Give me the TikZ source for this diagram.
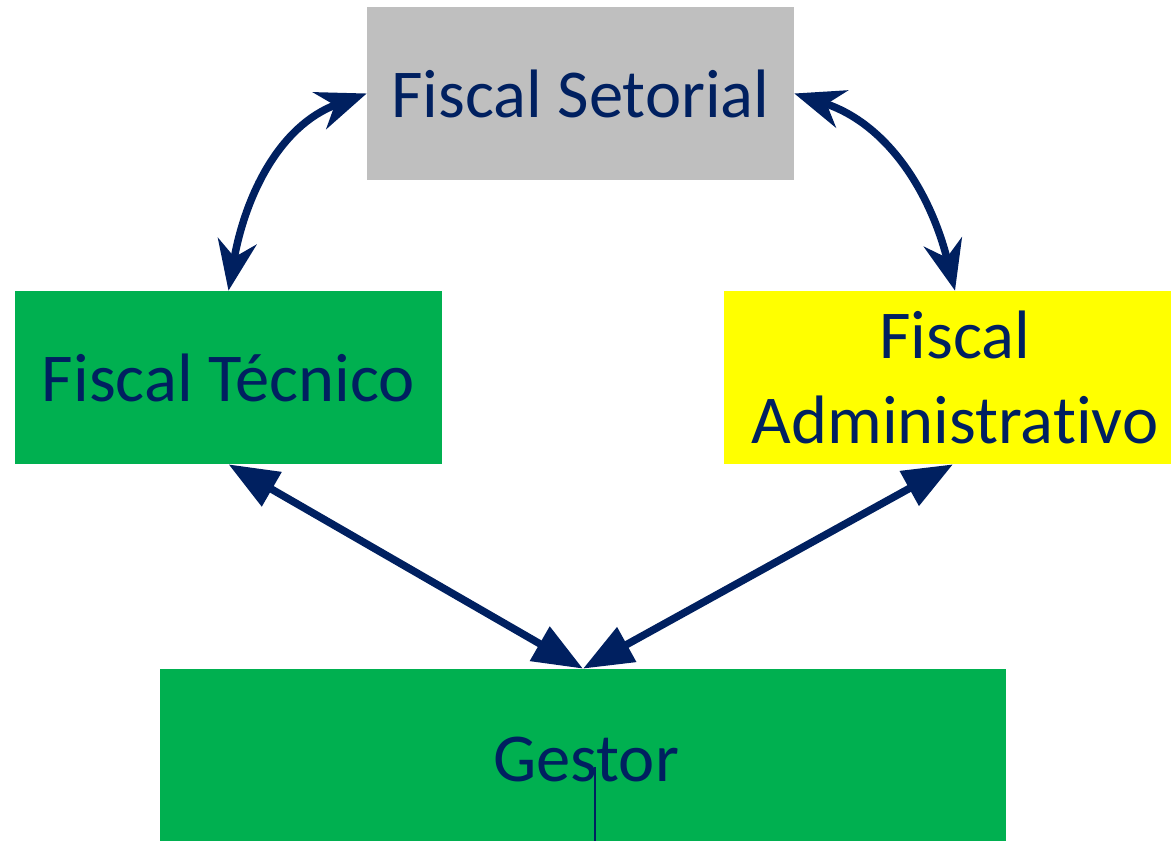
\documentclass[tikz,border=0pt]{standalone}
\usepackage{fontspec}
\setmainfont[Ligatures={NoCommon}]{Carlito}
\usetikzlibrary{arrows.meta}
\definecolor{navy}{HTML}{002060}
\definecolor{boxgreen}{HTML}{00B050}
\definecolor{boxgray}{HTML}{BFBFBF}
\definecolor{boxyellow}{HTML}{FFFF00}
\tikzset{
  role/.style={rectangle, inner sep=0pt, text=navy, align=center,
    font=\fontsize{39}{48.4}\selectfont, minimum height=3.46cm},
  curvedlink/.style={navy, line width=0.15cm,
    {Stealth[length=1.0cm, width=0.78cm, inset=0.32cm]}-{Stealth[length=1.0cm, width=0.78cm, inset=0.32cm]}},
  straightlink/.style={navy, line width=0.15cm,
    {Triangle[length=1.0cm, width=0.76cm]}-{Triangle[length=1.0cm, width=0.76cm]}}
}
\begin{document}
\begin{tikzpicture}[x=0.02cm, y=0.02cm]
\useasboundingbox (0,0) rectangle (1171,840);

\node[role, fill=boxgray, minimum width=8.54cm] (set) at (580.5,746.5) {Fiscal Setorial};
\node[role, fill=boxgreen, minimum width=8.54cm] (tec) at (228.5,462.5) {Fiscal Técnico};
\node[role, fill=boxyellow, minimum width=8.94cm] (adm) at (947.5,462.5) {\hspace*{0.3cm}Fiscal\\\hspace*{0.3cm}Administrativo};
\node[role, fill=boxgreen, minimum width=16.92cm, minimum height=3.46cm] (ges) at (583,84.5) {};
\node[text=navy, font=\fontsize{39}{48.4}\selectfont, inner sep=0pt] (gestxt) at (586,80) {Gestor};

% reporting lines between the roles
\draw[curvedlink] (tec.north) to[out=80, in=200] (set.west);
\draw[curvedlink] ([xshift=0.15cm]adm.north) to[out=104, in=-18] (set.east);
\draw[straightlink] (tec.south) -- (ges.north);
\draw[straightlink] ([xshift=0.11cm]adm.south) -- (ges.north);

% thin mark under the Gestor label
\coordinate (gmark) at (595,73);
\draw[navy, line width=0.03cm] (gmark) -- (gmark |- ges.south);
\end{tikzpicture}
\end{document}
